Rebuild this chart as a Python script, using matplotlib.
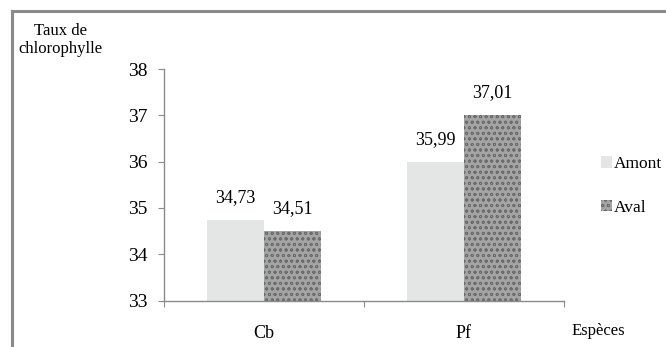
import matplotlib
matplotlib.use("Agg")
import matplotlib.pyplot as plt
from matplotlib.lines import Line2D
from matplotlib.patches import Patch
import numpy as np

categories = ["Cb", "Pf"]
series_names = ["Amont", "Aval"]
amont = [34.73, 35.99]
aval = [34.51, 37.01]
amont_labels = ["34,73", "35,99"]
aval_labels = ["34,51", "37,01"]
yticks = [33, 34, 35, 36, 37, 38]

plt.rcParams['font.family'] = ['Liberation Serif', 'DejaVu Serif']
plt.rcParams['hatch.linewidth'] = 0.6

W, H = 666, 347
fig = plt.figure(figsize=(W / 100, H / 100), dpi=100)

# outer frame (top and left gray lines)
fig.add_artist(Line2D([12 / W, 12 / W], [0, 1 - 10.5 / H], transform=fig.transFigure,
                      color='#8a8a8a', lw=2.2))
fig.add_artist(Line2D([12 / W, 1], [1 - 10.5 / H, 1 - 10.5 / H], transform=fig.transFigure,
                      color='#8a8a8a', lw=2.2))

left, right = 164 / W, 564 / W
bottom, top = 1 - 300.5 / H, 1 - 69 / H
ax = fig.add_axes([left, bottom, right - left, top - bottom])

x = np.arange(len(categories))
bw = 0.287
ax.bar(x - bw / 2, np.array(amont) - 33, bw, bottom=33, color='#e4e5e5',
       edgecolor='none', label=series_names[0])
ax.bar(x + bw / 2, np.array(aval) - 33, bw, bottom=33, color='#a4a4a4',
       edgecolor='#6a6a6a', hatch='ooo', linewidth=0, label=series_names[1])

for xi, v, lab in zip(x - bw / 2, amont, amont_labels):
    ax.text(xi, v + 0.3, lab, ha='center', va='bottom', fontsize=13)
for xi, v, lab in zip(x + bw / 2, aval, aval_labels):
    ax.text(xi, v + 0.3, lab, ha='center', va='bottom', fontsize=13)

ax.set_xlim(-0.5, 1.5)
ax.set_ylim(33, 38)
ax.set_yticks(yticks)
ax.set_yticklabels([str(t) for t in yticks], fontsize=14)
ax.set_xticks([-0.5, 0.5, 1.5])
ax.set_xticklabels([])
ax.set_xticks(x, minor=True)
ax.set_xticklabels(categories, minor=True, fontsize=13)
ax.tick_params(axis='x', which='minor', length=0, pad=18)
ax.tick_params(axis='x', which='major', length=4, direction='out', color='#8a8a8a')
ax.tick_params(axis='y', length=4, direction='out', color='#8a8a8a', pad=8)

for s in ['top', 'right']:
    ax.spines[s].set_visible(False)
for s in ['left', 'bottom']:
    ax.spines[s].set_color('#8a8a8a')
    ax.spines[s].set_linewidth(1.0)

fig.text(60 / W, 1 - 40 / H, "Taux de\nchlorophylle", ha='center', va='center',
         fontsize=12, linespacing=1.15)
fig.text(598 / W, 1 - 331 / H, "Espèces", ha='center', va='center', fontsize=12)

handles = [Patch(facecolor='#e4e5e5', edgecolor='none'),
           Patch(facecolor='#a4a4a4', edgecolor='#6a6a6a', hatch='ooo', linewidth=0)]
fig.legend(handles, series_names, loc='center left', bbox_to_anchor=(596 / W, 1 - 186 / H),
           frameon=False, fontsize=12.5, handlelength=0.6, handleheight=0.6,
           handletextpad=0.1, labelspacing=1.6, borderaxespad=0, borderpad=0.3)

fig.savefig("out.png", dpi=100)
